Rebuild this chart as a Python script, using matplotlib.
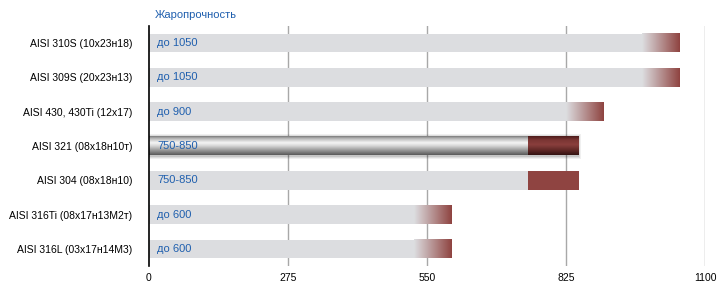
import numpy as np
import matplotlib.pyplot as plt
from matplotlib.colors import to_rgb

plt.rcParams['font.family'] = ['Liberation Sans', 'DejaVu Sans']

# data
steels = ['AISI 310S (10х23н18)', 'AISI 309S (20х23н13)', 'AISI 430, 430Ti (12х17)',
          'AISI 321 (08х18н10т)', 'AISI 304 (08х18н10)', 'AISI 316Ti (08х17н13М2т)',
          'AISI 316L (03х17н14М3)']
range_lo = [None, None, None, 750, 750, None, None]
range_hi = [1050, 1050, 900, 850, 850, 600, 600]
bar_text = ['до 1050', 'до 1050', 'до 900', '750-850', '750-850', 'до 600', 'до 600']
highlight = 3
xticks = [0, 275, 550, 825, 1100]

gray = np.array(to_rgb('#dcdde0'))
red = np.array(to_rgb('#8f4441'))
blue = '#1f5fae'
fade = 75
h = 0.54

fig = plt.figure(figsize=(7.27, 2.93), dpi=100)
ax = fig.add_axes([149 / 727, 1 - 266 / 293, 556 / 727, 240 / 293])
ax.set_xlim(0, 1100)
ax.set_ylim(len(steels) - 0.5, -0.5)

for x in xticks[1:]:
    ax.axvline(x, color='#a8a8a8', lw=1, zorder=0)


def hgrad(x0, x1, y, c0, c1):
    t = np.linspace(0, 1, 64)[None, :, None]
    img = c0 + (c1 - c0) * t
    ax.imshow(img, extent=[x0, x1, y + h / 2, y - h / 2], aspect='auto', zorder=2,
              interpolation='bilinear')


def vgrad(x0, x1, y, stops, zord=3):
    pos = np.array([s[0] for s in stops])
    cols = np.array([to_rgb(s[1]) for s in stops])
    t = np.linspace(0, 1, 80)
    img = np.stack([np.interp(t, pos, cols[:, k]) for k in range(3)], axis=1)[:, None, :]
    ax.imshow(img, extent=[x0, x1, y + h / 2, y - h / 2], aspect='auto', zorder=zord,
              interpolation='bilinear')


for i, (lo, hi) in enumerate(zip(range_lo, range_hi)):
    if i == highlight:
        # shadow
        for k, a in enumerate([0.06, 0.08, 0.1]):
            d = 0.09 - k * 0.03
            ax.barh(i + 0.02, hi + 6 - k * 2, left=-2, height=h + 2 * d,
                    color='black', alpha=a, lw=0, zorder=2)
        vgrad(0, lo, i, [(0, '#7a7a7a'), (0.12, '#b5b5b5'), (0.35, '#f6f6f6'),
                         (0.5, '#dadada'), (0.8, '#8c8c8c'), (1, '#5a5a5a')])
        vgrad(lo, hi, i, [(0, '#4c1c1b'), (0.2, '#7a3533'), (0.45, '#8a3f3d'),
                          (0.75, '#5f2826'), (1, '#341312')])
    elif lo is not None:
        ax.barh(i, lo, height=h, color=gray, lw=0, zorder=2)
        ax.barh(i, hi - lo, left=lo, height=h, color=red, lw=0, zorder=2)
    else:
        ax.barh(i, hi - fade, height=h, color=gray, lw=0, zorder=2)
        hgrad(hi - fade, hi, i, gray, red)
    ax.text(16, i, bar_text[i], color=blue, fontsize=8, va='center', ha='left', zorder=5)

ax.set_xlim(0, 1100)
ax.set_ylim(len(steels) - 0.5, -0.5)
ax.set_yticks(range(len(steels)))
ax.set_yticklabels(steels, fontsize=7.5)
ax.set_xticks(xticks)
ax.set_xticklabels([str(x) for x in xticks], fontsize=7.5)
ax.tick_params(axis='y', length=0, pad=12)
ax.tick_params(axis='x', length=0, pad=5)
for s in ['top', 'right', 'bottom']:
    ax.spines[s].set_visible(False)
ax.spines['left'].set_color('black')
ax.spines['left'].set_linewidth(1.2)
ax.spines['left'].set_zorder(6)

fig.text(155 / 727, 1 - 15 / 293, 'Жаропрочность', color=blue, fontsize=8,
         ha='left', va='center')

fig.savefig('out.png', dpi=100)
